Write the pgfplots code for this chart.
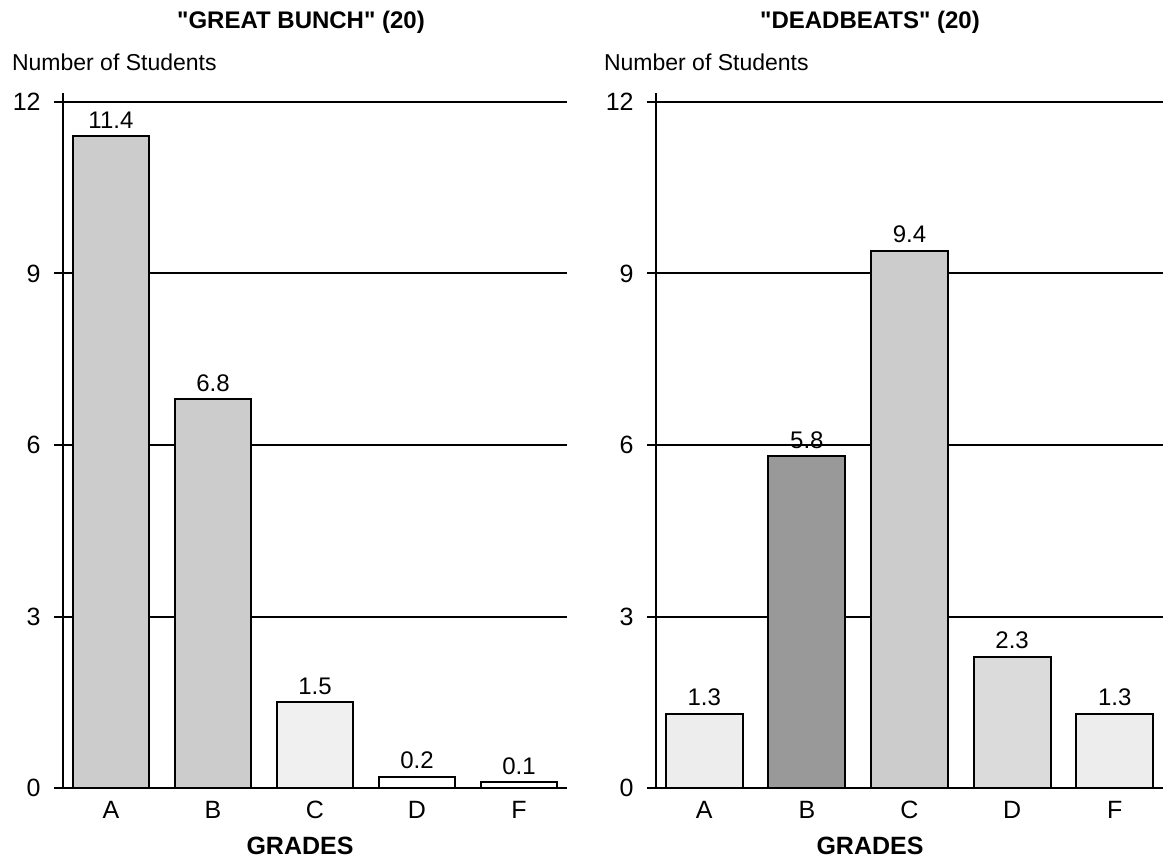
\documentclass[border=0pt]{standalone}
\usepackage{pgfplots}
\pgfplotsset{compat=1.18}
\usepackage{fontspec}
\setmainfont{Liberation Sans}
\newfontfamily\plainfont{Liberation Sans}
\begin{document}
\begin{tikzpicture}[font=\fontsize{11.5}{13}\selectfont]
\path[use as bounding box] (0,0) rectangle (581.5pt,-429pt);
\pgfplotsset{
 gstyle/.style={
  scale only axis, width=252pt, height=347.3pt,
  xmin=-0.47, xmax=4.47, ymin=0, ymax=12.15,
  axis x line=bottom, axis y line=left,
  axis line style={-, line width=1pt},
  xtick={0,...,4}, xticklabels={A,B,C,D,F},
  ytick={0,3,6,9,12},
  x tick style={draw=none},
  y tick style={line width=1pt, black},
  tick align=outside, major tick length=4.5pt,
  ymajorgrids, grid style={line width=1pt, black},
  /pgf/number format/assume math mode=true,
  tick label style={font=\fontsize{12.5}{14}\selectfont},
  yticklabel style={anchor=east, inner sep=0pt, xshift=-6.5pt},
  xticklabel style={yshift=1.5pt},
  clip=false,
 },
 gbar/.style={ybar, bar width=0.75, bar shift=0pt, draw=black, line width=1pt, fill=#1,
   nodes near coords, nodes near coords style={font=\fontsize{12}{14}\selectfont, black}},
}
\begin{axis}[gstyle, at={(31.5pt,-394pt)}, anchor=south west]
\addplot[gbar=black!20] coordinates {(0,11.4)};
\addplot[gbar=black!20] coordinates {(1,6.8)};
\addplot[gbar=black!6] coordinates {(2,1.5)};
\addplot[gbar=white] coordinates {(3,0.2)};
\addplot[gbar=white] coordinates {(4,0.1)};
\end{axis}
\begin{axis}[gstyle, width=253.5pt, at={(328pt,-394pt)}, anchor=south west]
\addplot[gbar=black!7] coordinates {(0,1.3)};
\addplot[gbar=black!40] coordinates {(1,5.8)};
\addplot[gbar=black!20] coordinates {(2,9.4)};
\addplot[gbar=black!14] coordinates {(3,2.3)};
\addplot[gbar=black!7] coordinates {(4,1.3)};
\end{axis}
\node[font=\plainfont\bfseries\fontsize{12}{14}\selectfont] at (150.5pt,-11pt) {"GREAT BUNCH" (20)};
\node[anchor=west] at (2.5pt,-31pt) {Number of Students};
\node[font=\bfseries\fontsize{12.5}{14}\selectfont] at (150pt,-423pt) {GRADES};
\node[font=\plainfont\bfseries\fontsize{12}{14}\selectfont] at (435pt,-11pt) {"DEADBEATS" (20)};
\node[anchor=west] at (298.5pt,-31pt) {Number of Students};
\node[font=\bfseries\fontsize{12.5}{14}\selectfont] at (435pt,-423pt) {GRADES};
\end{tikzpicture}
\end{document}
